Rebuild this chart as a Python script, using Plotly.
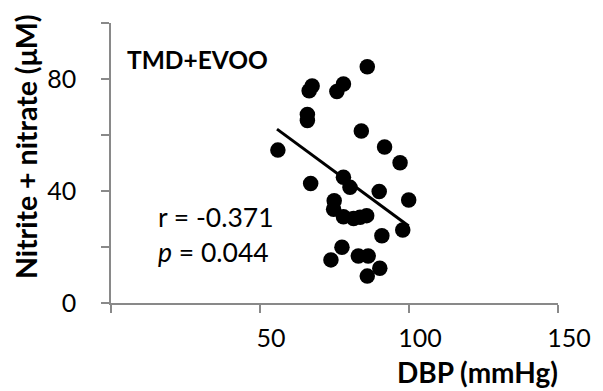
import plotly.graph_objects as go

# DBP (mmHg) vs nitrite + nitrate (µM)
dbp = [86.0, 67.5, 66.5, 78.0, 75.8, 65.9, 65.9, 84.0, 56.0, 91.8,
       97.0, 67.0, 78.0, 80.2, 90.0, 99.9, 74.9, 74.7, 78.0, 81.4,
       85.8, 97.9, 90.9, 77.5, 73.8, 83.0, 86.3, 90.2, 86.0, 83.6]
nox = [84.4, 77.5, 75.8, 78.2, 75.5, 67.3, 65.2, 61.4, 54.6, 55.7,
       50.1, 42.7, 44.9, 41.3, 39.8, 36.8, 36.5, 33.5, 30.8, 30.2,
       31.2, 26.1, 24.0, 19.9, 15.4, 16.8, 16.8, 12.4, 9.6, 30.6]

trend_x = [55.7, 99.9]
trend_y = [62.1, 27.5]

x_tickvals = [0, 50, 100, 150]
x_ticktext = ["", "50", "100", "150"]
y_tickvals = [0, 20, 40, 60, 80, 100]
y_ticktext = ["0", "", "40", "", "80", ""]

FONT = "Lato, 'Liberation Sans', Arial, sans-serif"
AXIS_COLOR = "#898989"

fig = go.Figure()
fig.add_trace(go.Scatter(
    x=dbp, y=nox, mode="markers",
    marker=dict(color="black", size=15.5, line=dict(width=0)),
    showlegend=False, hoverinfo="skip"))
fig.add_trace(go.Scatter(
    x=trend_x, y=trend_y, mode="lines",
    line=dict(color="black", width=3),
    showlegend=False, hoverinfo="skip"))

fig.update_layout(
    width=595, height=383,
    margin=dict(l=103, r=39, t=15, b=88),
    paper_bgcolor="white", plot_bgcolor="white",
    font=dict(family=FONT, color="black", size=25),
    xaxis=dict(range=[0, 150], tickmode="array", tickvals=x_tickvals,
               ticktext=x_ticktext, showgrid=False, zeroline=False,
               showline=True, linecolor=AXIS_COLOR, linewidth=1.5,
               ticks="outside", ticklen=8, tickwidth=1.5, tickcolor=AXIS_COLOR,
               tickfont=dict(size=25, family=FONT, color="black"),
               ticklabelshift=11, ticklabelstandoff=4, fixedrange=True),
    yaxis=dict(range=[0, 100], tickmode="array", tickvals=y_tickvals,
               ticktext=y_ticktext, showgrid=False, zeroline=False,
               showline=True, linecolor=AXIS_COLOR, linewidth=1.5,
               ticks="outside", ticklen=8, tickwidth=1.5, tickcolor=AXIS_COLOR,
               tickfont=dict(size=25, family=FONT, color="black"),
               ticklabelstandoff=20, fixedrange=True),
)

# axis titles
fig.add_annotation(text="<b>DBP (mmHg)</b>", xref="paper", yref="paper",
                   x=1, y=0, xanchor="right", yanchor="middle",
                   xshift=2, yshift=-69, showarrow=False,
                   font=dict(size=28, family=FONT, color="black"))
fig.add_annotation(text="<b>Nitrite + nitrate (μM)</b>", xref="paper", yref="paper",
                   x=0, y=(303 - 147) / 280, xanchor="center", yanchor="middle",
                   xshift=-85, textangle=-90, showarrow=False,
                   font=dict(size=28.5, family=FONT, color="black"))

# in-plot labels
fig.add_annotation(text="<b>TMD+EVOO</b>", x=4.6, y=86.8, xref="x", yref="y",
                   xanchor="left", yanchor="middle", showarrow=False,
                   font=dict(size=24.5, family=FONT, color="black"))
fig.add_annotation(text="r = -0.371", x=15.2, y=30.7, xref="x", yref="y",
                   xanchor="left", yanchor="middle", showarrow=False,
                   font=dict(size=26.5, family=FONT, color="black"))
fig.add_annotation(text="<i>p</i> = 0.044", x=15.2, y=18.2, xref="x", yref="y",
                   xanchor="left", yanchor="middle", showarrow=False,
                   font=dict(size=26.5, family=FONT, color="black"))

fig.write_html("out.html")
